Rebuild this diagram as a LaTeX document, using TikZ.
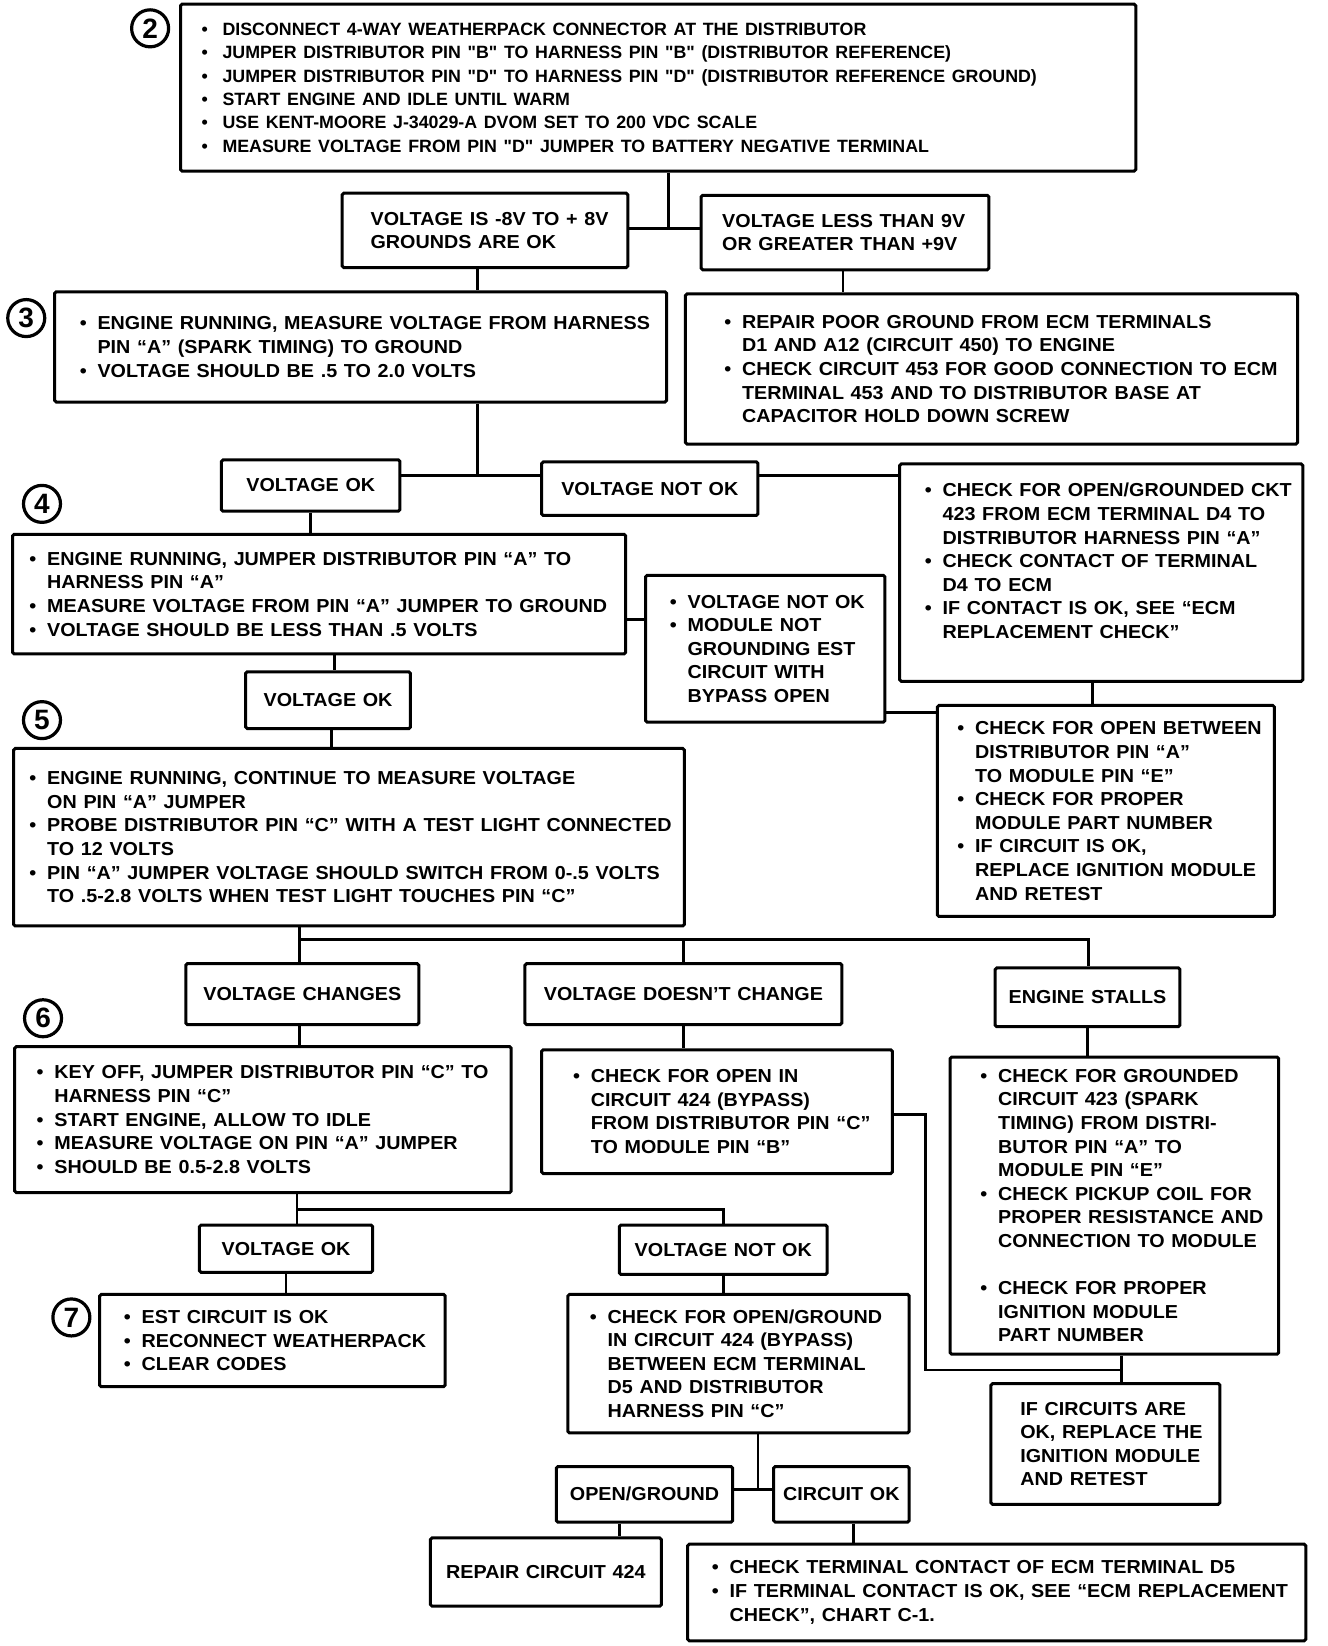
\documentclass[tikz,border=0pt]{standalone}
\usepackage{fontspec}
\setmainfont{Liberation Sans}
\newfontfamily{\widefam}{Liberation Sans}[FakeStretch=1.05,Ligatures=TeX]
\usepackage{tikz}

\newlength{\bulw}
\setlength{\bulw}{8.9pt}
\newcommand{\flowfont}{\widefam\fontsize{9.4}{11.8}\selectfont\bfseries}
\newcommand{\topfont}{\fontsize{8.9}{11.65}\selectfont\bfseries\setlength{\bulw}{10.5pt}}
\newcommand{\bul}{\hangindent=\bulw\hangafter=1\makebox[\bulw][l]{\textbullet}}
\newcommand{\qd}{\textquotedbl}
% box from its corners (x1,y1) (x2,y2), left inset in pt
\newcommand{\flowbox}[8][\flowfont]{%
  \pgfmathsetmacro{\boxw}{(#5-#3)*0.5249}%
  \pgfmathsetmacro{\boxh}{(#6-#4)*0.5249}%
  \node[flow,minimum width=\boxw pt,minimum height=\boxh pt,text width=\boxw pt-4pt]
    (#2) at ({(#3+#5)/2},{(#4+#6)/2})
    {#1\let\\\newline\rightskip=0pt minus 60pt\leftskip=#7pt\relax#8\par};%
}

\begin{document}
\begin{tikzpicture}[x=0.5249pt,y=-0.5249pt,
    flow/.style={draw,line width=1.5pt,inner xsep=2pt,inner ysep=1pt,rounded corners=0.8pt},
    link/.style={line width=1.4pt},
    stepnum/.style={draw,circle,line width=1.6pt,minimum size=18.5pt,inner sep=0pt,
      font=\fontsize{14}{14}\selectfont\bfseries}]
  \useasboundingbox (0,0) rectangle (1265,1568);

  % step numbers
  \node[stepnum] (n2) at (143,27) {2};
  \node[stepnum] (n3) at (25,303) {3};
  \node[stepnum] (n4) at (40,480) {4};
  \node[stepnum] (n5) at (40,686) {5};
  \node[stepnum] (n6) at (41,970) {6};
  \node[stepnum] (n7) at (68,1255) {7};

  % step 2
  \flowbox[\topfont]{step2}{172}{4}{1082}{163}{8.5}{%
    \bul DISCONNECT 4-WAY WEATHERPACK CONNECTOR AT THE  DISTRIBUTOR\par
    \bul JUMPER DISTRIBUTOR PIN \qd B\qd{} TO HARNESS PIN \qd B\qd{} (DISTRIBUTOR REFERENCE)\par
    \bul JUMPER DISTRIBUTOR PIN \qd D\qd{} TO HARNESS PIN \qd D\qd{} (DISTRIBUTOR REFERENCE GROUND)\par
    \bul START ENGINE AND IDLE UNTIL WARM\par
    \bul USE KENT-MOORE J-34029-A DVOM SET TO 200 VDC SCALE\par
    \bul MEASURE VOLTAGE FROM PIN \qd D\qd{} JUMPER TO BATTERY NEGATIVE TERMINAL}
  \flowbox{vgnd}{326}{184}{598}{255}{12.2}{VOLTAGE IS -8V TO + 8V\\GROUNDS ARE OK}
  \flowbox{vbad}{668}{186}{942}{257}{8.5}{VOLTAGE LESS THAN 9V\\OR GREATER THAN +9V}

  % step 3
  \flowbox{step3}{52}{278}{635}{383}{10.6}{%
    \bul ENGINE RUNNING, MEASURE VOLTAGE FROM HARNESS\\PIN ``A'' (SPARK TIMING) TO GROUND\par
    \bul VOLTAGE SHOULD BE .5 TO 2.0 VOLTS}
  \flowbox{repair}{653}{280}{1236}{423}{17.4}{%
    \bul REPAIR POOR GROUND FROM ECM TERMINALS\\D1 AND A12 (CIRCUIT 450) TO ENGINE\par
    \bul CHECK CIRCUIT 453 FOR GOOD CONNECTION TO ECM\\TERMINAL 453 AND TO DISTRIBUTOR BASE AT\\CAPACITOR HOLD DOWN SCREW}
  \flowbox{vok3}{211}{438}{381}{487}{0}{\centering VOLTAGE OK}
  \flowbox{vnok3}{516}{440}{722}{491}{0}{\centering VOLTAGE NOT OK}
  \flowbox{ckt423}{857}{442}{1241}{649}{10.6}{%
    \bul CHECK FOR OPEN/GROUNDED CKT\\423 FROM ECM TERMINAL D4 TO\\DISTRIBUTOR HARNESS PIN ``A''\par
    \bul CHECK CONTACT OF TERMINAL\\D4 TO ECM\par
    \bul IF CONTACT IS OK, SEE ``ECM\\REPLACEMENT CHECK''\par\hbox{}}

  % step 4
  \flowbox{step4}{12}{509}{596}{623}{6.4}{%
    \bul ENGINE RUNNING, JUMPER DISTRIBUTOR PIN ``A'' TO\\HARNESS PIN ``A''\par
    \bul MEASURE VOLTAGE FROM PIN ``A'' JUMPER TO GROUND\par
    \bul VOLTAGE SHOULD BE LESS THAN .5 VOLTS}
  \flowbox{modnot}{615}{548}{843}{688}{10.1}{%
    \bul VOLTAGE NOT OK\par
    \bul MODULE NOT\\GROUNDING EST\\CIRCUIT WITH\\BYPASS OPEN}
  \flowbox{openbet}{893}{672}{1214}{873}{8}{%
    \bul CHECK FOR OPEN BETWEEN\\DISTRIBUTOR PIN ``A''\\TO MODULE PIN ``E''\par
    \bul CHECK FOR PROPER\\MODULE PART NUMBER\par
    \bul IF CIRCUIT IS OK,\\REPLACE IGNITION MODULE\\AND RETEST}
  \flowbox{vok4}{234}{640}{391}{694}{0}{\centering VOLTAGE OK}

  % step 5
  \flowbox{step5}{13}{713}{652}{882}{5.9}{%
    \bul ENGINE RUNNING, CONTINUE TO MEASURE VOLTAGE\\ON PIN ``A'' JUMPER\par
    \bul PROBE DISTRIBUTOR PIN ``C'' WITH A TEST LIGHT CONNECTED\\TO 12 VOLTS\par
    \bul PIN ``A'' JUMPER VOLTAGE SHOULD SWITCH FROM 0-.5 VOLTS\\TO .5-2.8 VOLTS WHEN TEST LIGHT TOUCHES PIN ``C''}
  \flowbox{vchg}{177}{918}{399}{976}{0}{\centering VOLTAGE CHANGES}
  \flowbox{vnochg}{500}{918}{802}{976}{0}{\centering VOLTAGE DOESN'T CHANGE}
  \flowbox{stall}{948}{922}{1124}{978}{0}{\centering ENGINE STALLS}

  % step 6
  \flowbox{step6}{14}{997}{487}{1136}{9}{%
    \bul KEY OFF, JUMPER DISTRIBUTOR PIN ``C'' TO\\HARNESS PIN ``C''\par
    \bul START ENGINE, ALLOW TO IDLE\par
    \bul MEASURE VOLTAGE ON PIN ``A'' JUMPER\par
    \bul SHOULD BE 0.5-2.8 VOLTS}
  \flowbox{ckt424}{516}{1000}{850}{1118}{13.7}{%
    \bul CHECK FOR OPEN IN\\CIRCUIT 424 (BYPASS)\\FROM DISTRIBUTOR PIN ``C''\\TO MODULE PIN ``B''}
  \flowbox{ckt423g}{905}{1007}{1218}{1290}{13.2}{%
    \bul CHECK FOR GROUNDED\\CIRCUIT 423 (SPARK\\TIMING) FROM DISTRI-\\BUTOR PIN ``A'' TO\\MODULE PIN ``E''\par
    \bul CHECK PICKUP COIL FOR\\PROPER RESISTANCE AND\\CONNECTION TO MODULE\par
    \vspace{11.8pt}
    \bul CHECK FOR PROPER\\IGNITION MODULE\\PART NUMBER}
  \flowbox{ifok}{944}{1318}{1162}{1433}{12.7}{%
    IF CIRCUITS ARE\\OK, REPLACE THE\\IGNITION MODULE\\AND RETEST}
  \flowbox{vok6}{190}{1167}{355}{1212}{0}{\centering VOLTAGE OK}
  \flowbox{vnok6}{590}{1167}{788}{1214}{0}{\centering VOLTAGE NOT OK}

  % step 7
  \flowbox{step7}{95}{1233}{424}{1321}{10.1}{%
    \bul EST CIRCUIT IS OK\par
    \bul RECONNECT WEATHERPACK\par
    \bul CLEAR CODES}
  \flowbox{ckt424b}{541}{1233}{866}{1365}{9}{%
    \bul CHECK FOR OPEN/GROUND\\IN CIRCUIT 424 (BYPASS)\\BETWEEN ECM TERMINAL\\D5 AND DISTRIBUTOR\\HARNESS PIN ``C''}
  \flowbox{opengnd}{530}{1397}{698}{1450}{0}{\centering OPEN/GROUND}
  \flowbox{cktok}{737}{1397}{866}{1450}{0}{\centering CIRCUIT OK}
  \flowbox{rep424}{410}{1465}{630}{1530}{0}{\centering REPAIR CIRCUIT 424}
  \flowbox{chkterm}{655}{1471}{1244}{1563}{10.1}{%
    \bul CHECK TERMINAL CONTACT OF ECM TERMINAL D5\par
    \bul IF TERMINAL CONTACT IS OK, SEE ``ECM REPLACEMENT\\CHECK'', CHART C-1.}

  % connectors
  \coordinate (j2) at (637,218);
  \draw[link] (step2.south -| j2) -- (j2);
  \draw[link] (vgnd.east |- j2) -- (vbad.west |- j2);
  \draw[link] (vgnd.south -| 455,0) -- (step3.north -| 455,0);
  \draw[link] (vbad.south -| 803,0) -- (repair.north -| 803,0);

  \coordinate (j3) at (455,453);
  \draw[link] (step3.south -| j3) -- (j3);
  \draw[link] (vok3.east |- j3) -- (vnok3.west |- j3);
  \draw[link] (vnok3.east |- j3) -- (ckt423.west |- j3);
  \draw[link] (vok3.south) -- (vok3.south |- step4.north);
  \draw[link] (step4.east |- 0,590) -- (modnot.west |- 0,590);
  \draw[link] (ckt423.south -| 1041,0) -- (openbet.north -| 1041,0);
  \draw[link] (modnot.east |- 0,679) -- (openbet.west |- 0,679);
  \draw[link] (step4.south -| 319,0) -- (vok4.north -| 319,0);
  \draw[link] (vok4.south -| 316,0) -- (step5.north -| 316,0);

  \coordinate (j5) at (285,895);
  \coordinate (j5r) at (1037,895);
  \draw[link] (step5.south -| j5) -- (j5) -- (j5r) -- (stall.north -| j5r);
  \draw[link] (j5) -- (vchg.north -| j5);
  \draw[link] (vnochg.north |- j5) -- (vnochg.north);
  \draw[link] (vchg.south -| j5) -- (step6.north -| j5);
  \draw[link] (vnochg.south) -- (vnochg.south |- ckt424.north);
  \draw[link] (stall.south) -- (stall.south |- ckt423g.north);

  \coordinate (j6) at (1068,1305);
  \coordinate (j6l) at (882,1305);
  \draw[link] (ckt424.east |- 0,1062) -| (j6l) -- (j6);
  \draw[link] (ckt423g.south -| j6) -- (ifok.north -| j6);

  \coordinate (j8) at (283,1152);
  \draw[link] (step6.south -| j8) -- (vok6.north -| j8);
  \draw[link] (j8) -| (vnok6.north);
  \draw[link] (vok6.south) -- (vok6.south |- step7.north);
  \draw[link] (vnok6.south) -- (vnok6.south |- ckt424b.north);

  \coordinate (j9) at (722,1419);
  \draw[link] (ckt424b.south -| j9) -- (j9);
  \draw[link] (opengnd.east |- j9) -- (cktok.west |- j9);
  \draw[link] (opengnd.south -| 590,0) -- (rep424.north -| 590,0);
  \draw[link] (cktok.south -| 813,0) -- (chkterm.north -| 813,0);
\end{tikzpicture}
\end{document}
